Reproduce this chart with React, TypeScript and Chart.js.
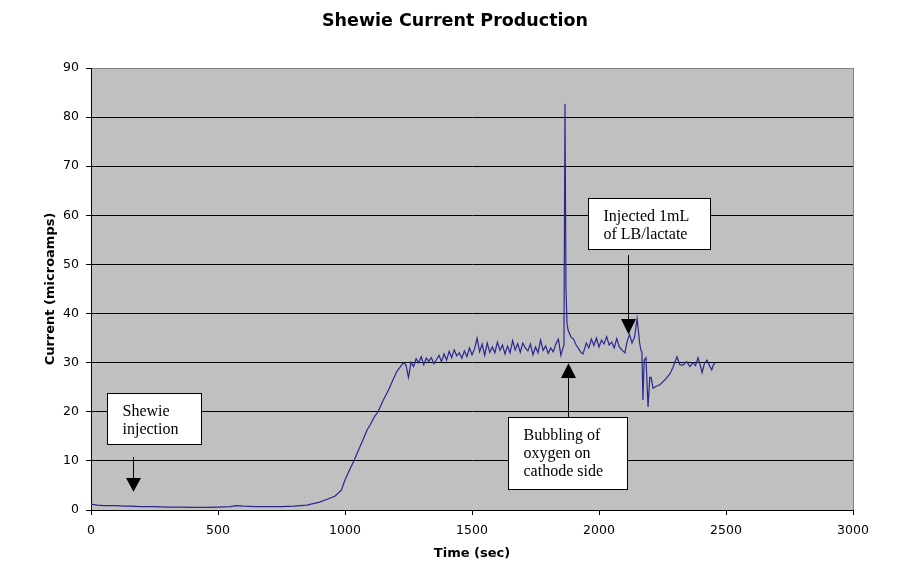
import { useEffect, useRef } from "react";
import { Chart, registerables } from "chart.js";

Chart.register(...registerables);

const chartTitle = "Shewie Current Production";
const xAxisTitle = "Time (sec)";
const yAxisTitle = "Current (microamps)";

const xTickValues = [0, 500, 1000, 1500, 2000, 2500, 3000];
const yTickValues = [0, 10, 20, 30, 40, 50, 60, 70, 80, 90];

const timeSec = [
  0, 25, 50, 100, 130, 150, 200, 250, 300, 350,
  400, 450, 500, 550, 570, 600, 650, 700, 750, 800,
  850, 900, 930, 960, 985, 1000, 1020, 1035, 1050, 1070,
  1087, 1100, 1115, 1130, 1150, 1170, 1189, 1205, 1217, 1230,
  1240, 1250,
  1260, 1270, 1280, 1290, 1300, 1310, 1320, 1330, 1340, 1350,
  1360, 1370, 1380, 1390, 1400, 1410, 1420, 1430, 1440, 1450,
  1460, 1470, 1480, 1490, 1500, 1510, 1520, 1530, 1540, 1550,
  1560, 1570, 1580, 1590, 1600, 1610, 1620, 1630, 1640, 1650,
  1660, 1670, 1680, 1690, 1700, 1710, 1720, 1730, 1740, 1750,
  1760, 1770, 1780, 1790, 1800, 1810, 1820, 1830, 1840, 1850,
  1858, 1862, 1866, 1870, 1874, 1878, 1890, 1900, 1910, 1920,
  1930, 1937, 1950, 1960, 1970, 1980, 1990, 2000, 2010, 2020,
  2030, 2040, 2050, 2060, 2070, 2080, 2090, 2102, 2110, 2120,
  2130, 2140, 2150, 2160, 2165, 2169, 2173, 2178, 2185, 2193,
  2200, 2205, 2213, 2225, 2240, 2255, 2268, 2280, 2291, 2307,
  2318, 2331, 2345, 2358, 2370, 2380, 2390, 2398, 2406, 2415,
  2425, 2435, 2444, 2450, 2457,
];

const currentMicroamps = [
  1.2, 1.0, 0.9, 0.9, 0.8, 0.8, 0.7, 0.7, 0.6, 0.6,
  0.55, 0.55, 0.6, 0.7, 0.9, 0.8, 0.7, 0.7, 0.7, 0.8,
  1.0, 1.6, 2.2, 2.8, 4.0, 6.1, 8.4, 10.0, 11.8, 14.2,
  16.3, 17.4, 18.9, 20.0, 22.3, 24.3, 26.5, 28.3, 29.1, 30.0,
  29.5, 27.0,
  30.1, 29.2, 30.8, 30.0, 31.2, 29.6, 30.9, 30.3, 31.0, 29.8,
  30.6, 31.5, 30.2, 31.8, 30.5, 32.3, 31.0, 32.6, 31.4, 32.0,
  30.9, 32.4, 31.2, 33.0, 31.6, 32.8, 35.0, 32.2, 33.8, 31.5,
  34.0, 32.1, 33.2, 32.0, 34.2, 32.5, 33.6, 31.8, 33.4, 32.0,
  34.5, 32.6, 33.9, 32.1, 34.0, 33.0, 32.4, 33.8, 31.6, 33.2,
  32.0, 34.6, 32.5, 33.4, 31.9, 33.0, 32.2, 33.8, 34.8, 31.5,
  33.0, 33.5, 82.7, 45.0, 38.0, 36.7, 35.2, 34.8, 33.6, 32.8,
  32.0, 31.8, 34.0, 33.0, 34.8, 33.5, 35.0, 33.2, 34.6, 33.8,
  35.3, 33.6, 34.2, 33.0, 34.9, 33.2, 32.6, 32.0, 34.2, 35.8,
  34.0, 35.2, 39.0, 34.0, 32.5, 32.2, 22.4, 30.5, 31.0, 21.0,
  27.0, 27.0, 24.8, 25.2, 25.5, 26.3, 27.0, 27.8, 29.0, 31.2,
  29.6, 29.5, 30.2, 29.2, 30.0, 29.4, 31.0, 29.6, 28.0, 29.8,
  30.5, 29.4, 28.5, 29.5, 30.0,
];

// Callout notes, anchored in data coordinates (time, current)
const noteLines = [
  ["Shewie", "injection"],
  ["Injected 1mL", "of LB/lactate"],
  ["Bubbling of", "oxygen on", "cathode side"],
];
const noteBoxes = [
  { x0: 63, x1: 433, yTop: 23.8, yBottom: 13.4 },
  { x0: 1957, x1: 2437, yTop: 63.5, yBottom: 53.1 },
  { x0: 1642, x1: 2110, yTop: 18.9, yBottom: 4.3 },
];
const noteArrows = [
  { x: 165, tail: 10.8, headBase: 6.5, tip: 3.7 },
  { x: 2114, tail: 51.9, headBase: 38.9, tip: 35.8 },
  { x: 1878, tail: 18.9, headBase: 26.9, tip: 29.9 },
];

export default function App() {
  const ref = useRef<HTMLCanvasElement>(null);

  useEffect(() => {
    const canvas = ref.current;
    if (!canvas) return;
    const points = timeSec.map((t, i) => ({ x: t, y: currentMicroamps[i] }));

    const plotPlugin = {
      id: "plotDecor",
      beforeDraw(chart: any) {
        const { ctx, chartArea: a } = chart;
        ctx.save();
        ctx.fillStyle = "#ffffff";
        ctx.fillRect(0, 0, chart.width, chart.height);
        ctx.fillStyle = "#C0C0C0";
        ctx.fillRect(a.left, a.top, a.right - a.left, a.bottom - a.top);
        ctx.restore();
      },
      afterDraw(chart: any) {
        const { ctx, chartArea: a, scales } = chart;
        const xs = scales.x;
        const ys = scales.y;
        ctx.save();
        // chart title, centred on the page
        ctx.fillStyle = "#000";
        ctx.font = "bold 17.5px 'DejaVu Sans'";
        ctx.textAlign = "center";
        ctx.textBaseline = "middle";
        ctx.fillText(chartTitle, 455, 21);

        // right border of plot area
        ctx.strokeStyle = "#808080";
        ctx.lineWidth = 1;
        ctx.beginPath();
        ctx.moveTo(Math.round(a.right) + 0.5, a.top);
        ctx.lineTo(Math.round(a.right) + 0.5, a.bottom);
        ctx.stroke();

        // callouts
        noteBoxes.forEach((b, i) => {
          const l = Math.round(xs.getPixelForValue(b.x0)) + 0.5;
          const r = Math.round(xs.getPixelForValue(b.x1)) + 0.5;
          const t = Math.round(ys.getPixelForValue(b.yTop)) + 0.5;
          const bt = Math.round(ys.getPixelForValue(b.yBottom)) + 0.5;
          ctx.fillStyle = "#ffffff";
          ctx.fillRect(l, t, r - l, bt - t);
          ctx.strokeStyle = "#000000";
          ctx.lineWidth = 1;
          ctx.strokeRect(l, t, r - l, bt - t);
          ctx.fillStyle = "#000000";
          ctx.font = "16px 'Liberation Serif'";
          ctx.textAlign = "left";
          ctx.textBaseline = "alphabetic";
          noteLines[i].forEach((line, k) => {
            ctx.fillText(line, l + 15, t + 22 + k * 18);
          });

          const ar = noteArrows[i];
          const ax = Math.round(xs.getPixelForValue(ar.x)) + 0.5;
          const yTail = ys.getPixelForValue(ar.tail);
          const yBase = ys.getPixelForValue(ar.headBase);
          const yTip = ys.getPixelForValue(ar.tip);
          ctx.beginPath();
          ctx.moveTo(ax, yTail);
          ctx.lineTo(ax, yBase);
          ctx.stroke();
          ctx.beginPath();
          ctx.moveTo(ax - 7.5, yBase);
          ctx.lineTo(ax + 7.5, yBase);
          ctx.lineTo(ax, yTip);
          ctx.closePath();
          ctx.fill();
        });
        ctx.restore();
      },
    };

    const chart = new Chart(canvas, {
      type: "line",
      data: {
        datasets: [
          {
            data: points,
            borderColor: "#28288e",
            borderWidth: 1.2,
            pointRadius: 0,
            tension: 0,
            fill: false,
          },
        ],
      },
      options: {
        animation: false,
        responsive: false,
        devicePixelRatio: 1,
        layout: { padding: { left: 0, right: 53, top: 68, bottom: 0 } },
        plugins: {
          legend: { display: false },
          tooltip: { enabled: false },
          title: { display: false },
        },
        scales: {
          x: {
            type: "linear",
            min: 0,
            max: 3000,
            afterBuildTicks: (s: any) => {
              s.ticks = xTickValues.map((v) => ({ value: v }));
            },
            afterFit: (s: any) => {
              s.height = 60;
            },
            ticks: {
              color: "#000",
              font: { family: "'DejaVu Sans'", size: 12.5 },
              padding: 8,
              maxRotation: 0,
              callback: (v: any) => String(v),
            },
            grid: {
              drawOnChartArea: false,
              drawTicks: true,
              tickLength: 5,
              tickColor: "#000",
              color: "#000",
            },
            border: { display: true, color: "#000", width: 1 },
            title: {
              display: true,
              text: xAxisTitle,
              color: "#000",
              font: { family: "'DejaVu Sans'", size: 13, weight: "bold" },
              padding: { top: 0, bottom: 9 },
            },
          },
          y: {
            type: "linear",
            min: 0,
            max: 90,
            afterBuildTicks: (s: any) => {
              s.ticks = yTickValues.map((v) => ({ value: v }));
            },
            afterFit: (s: any) => {
              s.width = 91;
            },
            ticks: {
              color: "#000",
              font: { family: "'DejaVu Sans'", size: 12.5 },
              padding: 7,
              callback: (v: any) => String(v),
            },
            grid: {
              drawOnChartArea: true,
              drawTicks: true,
              tickLength: 5,
              tickColor: "#000",
              color: (c: any) => (c.tick && c.tick.value === 90 ? "#808080" : "#000"),
              lineWidth: 1,
            },
            border: { display: true, color: "#000", width: 1 },
            title: {
              display: true,
              text: yAxisTitle,
              color: "#000",
              font: { family: "'DejaVu Sans'", size: 13, weight: "bold" },
              padding: { top: 43, bottom: 0 },
            },
          },
        },
      },
      plugins: [plotPlugin],
    } as any);

    return () => chart.destroy();
  }, []);

  return (
    <div style={{ position: "fixed", left: 0, top: 0, width: 906, height: 570, background: "#fff" }}>
      <canvas ref={ref} width={906} height={570} style={{ display: "block", width: 906, height: 570 }} />
    </div>
  );
}
